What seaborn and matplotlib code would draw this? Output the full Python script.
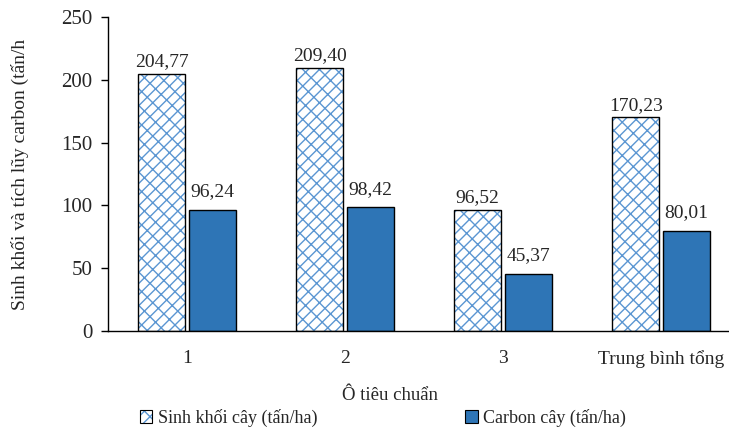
import matplotlib
matplotlib.use("Agg")
import matplotlib.pyplot as plt
from matplotlib.patches import Rectangle, Patch
from matplotlib.legend_handler import HandlerTuple
import seaborn as sns
import pandas as pd

plots = ["1", "2", "3", "Trung bình tổng"]
biomass = [204.77, 209.40, 96.52, 170.23]
carbon = [96.24, 98.42, 45.37, 80.01]
series = ["Sinh khối cây (tấn/ha)", "Carbon cây (tấn/ha)"]
yticks = [0, 50, 100, 150, 200, 250]

sns.set_theme(style="white")
plt.rcParams["font.family"] = ["Liberation Serif", "DejaVu Serif"]
plt.rcParams["hatch.linewidth"] = 1.0

df = pd.DataFrame({
    "plot": plots * 2,
    "series": [series[0]] * len(plots) + [series[1]] * len(plots),
    "value": biomass + carbon,
})

blue = "#2E75B6"
hatch_blue = "#5B96D2"
brick = "///\\\\"

fig = plt.figure(figsize=(7.29, 4.32), dpi=100)
ax = fig.add_axes([108 / 729, 101 / 432, 632 / 729, 314 / 432])

sns.barplot(data=df, x="plot", y="value", hue="series", order=plots,
            hue_order=series, palette=["white", blue], saturation=1,
            width=0.64, gap=0.06, edgecolor="black", linewidth=1.0,
            legend=False, ax=ax)

# hatched bars: blue hatch lines, black outline drawn on top
hatched, solid = ax.containers[0], ax.containers[1]
for p in hatched:
    p.set_hatch(brick)
    p.set_edgecolor(hatch_blue)
    p.set_linewidth(0)
    ax.add_patch(Rectangle(p.get_xy(), p.get_width(), p.get_height(),
                           fill=False, edgecolor="black", linewidth=1.0, zorder=3))

def fmt(v):
    return f"{v:.2f}".replace(".", ",")

ax.bar_label(hatched, labels=[fmt(v) for v in biomass], padding=2.5, fontsize=14)
ax.bar_label(solid, labels=[fmt(v) for v in carbon], padding=7, fontsize=14)

ax.set_ylim(0, 250)
ax.set_xlim(-0.5, len(plots) - 0.5)
ax.set_yticks(yticks)
ax.set_yticklabels([str(t) for t in yticks], fontsize=15)
ax.set_xticks(range(len(plots)))
ax.set_xticklabels(plots, fontsize=14)
ax.set_xticks([i - 0.5 for i in range(len(plots) + 1)], minor=True)
ax.tick_params(axis="x", which="major", length=0, pad=14)
ax.tick_params(axis="x", which="minor", length=5, width=1, color="black", direction="out")
ax.tick_params(axis="y", length=5, width=1, color="black", direction="out", left=True, pad=6)
for s in ["top", "right"]:
    ax.spines[s].set_visible(False)
for s in ["left", "bottom"]:
    ax.spines[s].set_color("black")
    ax.spines[s].set_linewidth(1.0)

ax.set_xlabel("")
ax.set_ylabel("Sinh khối và tích lũy carbon (tấn/h", fontsize=14)
ax.yaxis.set_label_coords((29 - 108) / 632, 0.5)
fig.text(390 / 729, 1 - 395 / 432, "Ô tiêu chuẩn", ha="center", va="center", fontsize=13.5)

handles = [
    (Patch(facecolor="white", edgecolor=hatch_blue, hatch=brick, linewidth=0),
     Patch(fill=False, edgecolor="black", linewidth=0.8)),
    Patch(facecolor=blue, edgecolor="black", linewidth=0.8),
]
fig.legend(handles, series, loc="center", bbox_to_anchor=(383 / 729, 1 - 418 / 432),
           ncol=2, frameon=False, fontsize=13, handlelength=0.7, handleheight=0.7,
           handletextpad=0.3, columnspacing=8.2,
           handler_map={tuple: HandlerTuple(ndivide=1, pad=0)})

fig.savefig("out.png", dpi=100)
